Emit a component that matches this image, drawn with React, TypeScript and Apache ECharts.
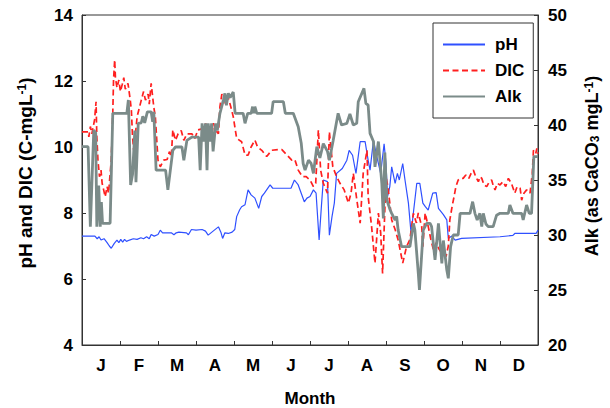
import React, { useEffect, useRef } from "react";
import * as echarts from "echarts";

const months = ["J", "F", "M", "A", "M", "J", "J", "A", "S", "O", "N", "D"];
const leftTicks = { min: 4, max: 14, interval: 2 };
const rightTicks = { min: 20, max: 50, interval: 5 };

// [month position (0-12), pH]
const phData: [number, number][] = [
  [0,7.30],[0.34,7.30],[0.40,7.22],[0.45,7.28],[0.50,7.18],[0.58,7.22],[0.66,7.10],[0.72,7.0],[0.77,6.93],[0.85,7.08],[0.92,7.18],[0.97,7.10],[1.02,7.20],[1.07,7.12],[1.12,7.20],[1.17,7.14],[1.25,7.18],[1.35,7.22],[1.45,7.20],[1.55,7.25],[1.62,7.22],[1.70,7.28],[1.77,7.22],[1.82,7.35],[1.90,7.30],[2.00,7.35],[2.06,7.48],[2.12,7.40],[2.35,7.40],[2.42,7.34],[2.48,7.40],[2.55,7.42],[2.75,7.40],[2.80,7.34],[2.88,7.50],[3.00,7.48],[3.16,7.50],[3.25,7.45],[3.32,7.33],[3.45,7.45],[3.59,7.58],[3.66,7.40],[3.70,7.23],[3.76,7.40],[3.85,7.38],[3.95,7.42],[4.02,7.50],[4.07,7.89],[4.15,8.10],[4.20,8.19],[4.29,8.25],[4.37,8.70],[4.45,8.55],[4.55,8.45],[4.65,8.14],[4.73,8.50],[4.80,8.60],[4.95,8.85],[5.02,8.75],[5.50,8.75],[5.59,9.00],[5.69,8.85],[5.85,8.34],[5.92,8.45],[6.00,8.50],[6.09,8.70],[6.16,8.60],[6.24,7.18],[6.30,8.20],[6.35,9.00],[6.46,8.95],[6.51,7.33],[6.58,7.90],[6.64,8.30],[6.70,9.20],[6.85,9.35],[6.97,9.60],[7.03,9.90],[7.12,9.75],[7.21,9.20],[7.32,10.16],[7.45,10.16],[7.53,9.60],[7.58,9.30],[7.67,10.20],[7.76,9.70],[7.86,9.20],[7.95,10.10],[8.00,9.50],[8.04,8.50],[8.10,8.80],[8.15,9.40],[8.24,8.90],[8.30,9.20],[8.35,9.00],[8.44,9.50],[8.50,9.00],[8.59,8.30],[8.66,7.38],[8.72,8.00],[8.81,8.90],[8.89,8.90],[8.97,8.30],[9.03,8.20],[9.11,8.09],[9.23,8.60],[9.32,8.62],[9.38,8.14],[9.51,7.95],[9.60,7.79],[9.64,7.23],[9.73,7.30],[9.82,7.18],[9.99,7.23],[11.00,7.28],[11.34,7.32],[11.39,7.38],[11.95,7.38],[12.0,7.48]
];

// [month position, DIC (C-mg/L)]
const dicData: [number, number][] = [
  [0,10.46],[0.16,10.46],[0.18,10.31],[0.22,10.62],[0.26,10.40],[0.33,10.82],[0.37,11.37],[0.39,10.30],[0.42,9.60],[0.46,9.10],[0.50,9.30],[0.53,8.90],[0.57,8.70],[0.61,8.49],[0.66,8.80],[0.70,8.60],[0.74,9.20],[0.77,9.60],[0.81,11.02],[0.83,12.03],[0.86,12.64],[0.88,12.10],[0.92,11.80],[0.97,12.03],[1.01,11.68],[1.06,11.90],[1.10,12.10],[1.14,11.75],[1.21,11.93],[1.27,11.42],[1.30,11.10],[1.33,10.31],[1.36,9.90],[1.40,10.30],[1.45,10.92],[1.49,11.10],[1.56,11.42],[1.62,11.68],[1.67,11.42],[1.74,11.60],[1.77,11.30],[1.82,11.93],[1.89,11.20],[1.93,10.92],[2.00,9.60],[2.06,9.40],[2.15,9.60],[2.24,9.62],[2.30,9.86],[2.35,9.70],[2.39,10.52],[2.46,10.20],[2.53,10.40],[2.61,10.50],[2.68,10.20],[2.76,10.40],[2.89,10.40],[2.97,10.26],[3.05,10.52],[3.16,10.55],[3.25,10.70],[3.32,10.62],[3.41,10.30],[3.46,10.72],[3.52,10.50],[3.59,10.40],[3.63,11.22],[3.68,11.60],[3.72,11.52],[3.78,11.30],[3.85,11.50],[3.92,11.20],[3.98,10.92],[4.07,10.26],[4.20,10.16],[4.29,9.76],[4.37,9.75],[4.45,10.00],[4.55,10.21],[4.62,10.00],[4.73,9.90],[4.86,9.71],[4.99,9.90],[5.17,9.92],[5.26,9.92],[5.39,9.76],[5.52,9.60],[5.60,9.62],[5.69,9.30],[5.80,9.10],[5.90,9.10],[6.00,9.00],[6.09,8.80],[6.15,8.90],[6.22,10.52],[6.28,9.30],[6.35,8.90],[6.46,8.60],[6.51,10.46],[6.60,9.40],[6.70,9.10],[6.79,8.90],[6.90,8.70],[7.01,8.30],[7.08,8.60],[7.14,9.20],[7.22,8.50],[7.32,7.69],[7.40,9.20],[7.50,9.90],[7.53,8.50],[7.62,7.60],[7.71,6.48],[7.80,8.00],[7.86,7.40],[7.91,6.17],[8.00,9.10],[8.05,8.80],[8.15,7.79],[8.24,7.50],[8.32,7.18],[8.44,6.48],[8.54,6.98],[8.63,7.20],[8.72,7.99],[8.80,7.70],[8.85,8.00],[8.94,7.59],[8.97,6.98],[9.03,8.00],[9.11,7.60],[9.18,7.20],[9.25,6.88],[9.32,7.10],[9.40,6.90],[9.47,6.78],[9.58,6.68],[9.64,7.00],[9.68,7.79],[9.74,8.20],[9.79,8.49],[9.84,8.80],[9.90,9.00],[9.96,9.05],[10.03,9.05],[10.10,9.15],[10.18,9.05],[10.24,9.20],[10.30,9.30],[10.36,9.10],[10.43,8.95],[10.48,9.10],[10.52,9.05],[10.58,8.85],[10.65,8.80],[10.72,8.95],[10.78,9.00],[10.83,8.80],[10.87,8.70],[10.93,8.90],[11.00,8.85],[11.08,8.95],[11.15,8.80],[11.22,9.05],[11.30,8.90],[11.39,8.60],[11.45,8.80],[11.53,8.75],[11.57,8.39],[11.63,8.60],[11.70,8.70],[11.79,8.60],[11.85,9.20],[11.88,9.90],[11.94,9.80],[11.97,9.96],[12.0,9.80]
];

// [month position, Alkalinity (as CaCO3 mg/L)]
const alkData: [number, number][] = [
  [0,38.03],[0.16,38.03],[0.22,30.76],[0.31,39.55],[0.36,39.3],[0.39,30.76],[0.44,34.5],[0.48,30.76],[0.51,33.0],[0.54,31.06],[0.74,31.06],[0.81,41.06],[1.18,41.06],[1.22,42.27],[1.28,34.55],[1.33,35.5],[1.39,39.5],[1.42,34.8],[1.48,40.15],[1.56,40.2],[1.60,40.8],[1.65,40.2],[1.72,41.2],[1.82,41.2],[1.86,40.3],[1.89,41.2],[1.95,35.9],[2.20,35.9],[2.26,34.1],[2.39,37.7],[2.46,38.0],[2.63,38.0],[2.68,36.8],[2.76,38.6],[2.89,38.9],[3.07,38.9],[3.11,35.9],[3.16,40.15],[3.20,38.5],[3.25,40.15],[3.29,35.9],[3.32,40.15],[3.38,38.5],[3.41,40.15],[3.45,37.6],[3.52,40.15],[3.56,39.5],[3.59,40.15],[3.63,41.06],[3.72,42.27],[3.76,42.88],[3.80,41.8],[3.85,42.88],[3.90,42.5],[3.98,43.0],[4.03,41.06],[4.24,41.06],[4.29,40.15],[4.36,41.06],[4.45,41.06],[4.49,41.67],[4.52,41.06],[4.55,41.67],[4.60,41.06],[4.99,41.06],[5.03,42.12],[5.30,42.12],[5.35,41.06],[5.56,41.06],[5.69,39.85],[5.77,38.33],[5.82,36.5],[5.87,35.9],[5.96,36.8],[6.03,36.5],[6.09,35.6],[6.18,38.03],[6.26,37.0],[6.35,38.3],[6.46,37.6],[6.51,36.8],[6.61,38.6],[6.74,41.06],[6.83,40.0],[6.97,40.15],[7.05,41.0],[7.14,40.0],[7.23,40.15],[7.27,42.12],[7.42,43.33],[7.47,41.97],[7.53,41.8],[7.58,39.24],[7.67,38.5],[7.71,36.2],[7.80,38.5],[7.89,34.7],[7.93,31.5],[7.97,37.5],[8.02,33.2],[8.11,32.27],[8.15,31.97],[8.24,31.36],[8.28,31.7],[8.32,30.45],[8.41,28.94],[8.63,28.94],[8.72,31.06],[8.76,30.45],[8.85,26.52],[8.88,25.0],[8.98,30.45],[9.07,31.06],[9.16,31.06],[9.20,30.76],[9.29,27.73],[9.38,31.06],[9.47,27.42],[9.51,29.5],[9.60,26.82],[9.64,26.06],[9.70,28.94],[9.77,30.0],[9.90,30.0],[9.95,31.97],[10.21,31.97],[10.28,33.03],[10.34,31.97],[10.40,31.36],[10.47,31.97],[10.52,30.76],[10.56,31.97],[10.63,31.0],[10.69,30.76],[10.82,30.76],[10.91,31.8],[11.00,31.97],[11.22,31.97],[11.26,32.73],[11.34,31.97],[11.57,31.97],[11.61,31.36],[11.70,32.73],[11.77,31.97],[11.83,31.97],[11.89,37.12],[12.0,37.12]
];

const FONT = "'Liberation Sans', Arial, Helvetica, sans-serif";
const AXIS_COLOR = "#333";

export default function App() {
  const ref = useRef<HTMLDivElement>(null);
  useEffect(() => {
    if (!ref.current) return;
    const chart = echarts.init(ref.current, undefined, { renderer: "svg" });
    const labelStyle = { color: "#000", fontSize: 17, fontWeight: "bold" as const, fontFamily: FONT };
    chart.setOption({
      animation: false,
      backgroundColor: "#fff",
      grid: { left: 82, right: 72, top: 15, bottom: 63, show: true, borderColor: AXIS_COLOR, borderWidth: 1 },
      legend: {
        orient: "vertical",
        left: 433,
        top: 23,
        padding: [13, 9, 13, 9],
        itemWidth: 42,
        itemHeight: 14,
        itemGap: 9,
        borderColor: AXIS_COLOR,
        borderWidth: 1,
        itemStyle: { opacity: 0 },
        textStyle: { ...labelStyle, padding: [0, 0, 0, 5] },
        data: ["pH", "DIC", "Alk"],
      },
      xAxis: [
        {
          type: "value",
          min: 0,
          max: 12,
          interval: 1,
          axisLine: { show: true, lineStyle: { color: AXIS_COLOR } },
          axisTick: { show: true, inside: true, length: 4, lineStyle: { color: AXIS_COLOR } },
          axisLabel: { show: false },
          splitLine: { show: false },
        },
        {
          type: "category",
          position: "bottom",
          data: months,
          boundaryGap: true,
          axisLine: { show: false },
          axisTick: { show: false },
          axisLabel: { ...labelStyle, margin: 12, interval: 0 },
          splitLine: { show: false },
        },
      ],
      yAxis: [
        {
          type: "value",
          ...leftTicks,
          position: "left",
          axisLine: { show: true, lineStyle: { color: AXIS_COLOR } },
          axisTick: { show: true, inside: true, length: 4, lineStyle: { color: AXIS_COLOR } },
          axisLabel: { ...labelStyle, margin: 9 },
          splitLine: { show: false },
        },
        {
          type: "value",
          ...rightTicks,
          position: "right",
          axisLine: { show: true, lineStyle: { color: AXIS_COLOR } },
          axisTick: { show: true, inside: true, length: 4, lineStyle: { color: AXIS_COLOR } },
          axisLabel: { ...labelStyle, margin: 10 },
          splitLine: { show: false },
        },
      ],
      graphic: [
        {
          type: "text",
          x: 25,
          y: 173,
          rotation: Math.PI / 2,
          style: {
            text: "pH and DIC (C-mgL{sup|-1})",
            fill: "#000",
            fontSize: 19,
            fontWeight: "bold",
            fontFamily: FONT,
            align: "center",
            verticalAlign: "middle",
            rich: {
              sup: { fontSize: 12, fontWeight: "bold", fontFamily: FONT, verticalAlign: "top", lineHeight: 12, fill: "#000" },
            },
          },
        },
        {
          type: "text",
          x: 592,
          y: 166,
          rotation: Math.PI / 2,
          style: {
            text: "Alk (as CaCO{sub|3} mgL{sup|-1})",
            fill: "#000",
            fontSize: 18,
            fontWeight: "bold",
            fontFamily: FONT,
            align: "center",
            verticalAlign: "middle",
            rich: {
              sup: { fontSize: 12, fontWeight: "bold", fontFamily: FONT, verticalAlign: "top", lineHeight: 12, fill: "#000" },
              sub: { fontSize: 12, fontWeight: "bold", fontFamily: FONT, verticalAlign: "bottom", lineHeight: 12, fill: "#000" },
            },
          },
        },
        {
          type: "text",
          x: 310,
          y: 398,
          style: {
            text: "Month",
            fill: "#000",
            fontSize: 17,
            fontWeight: "bold",
            fontFamily: FONT,
            align: "center",
            verticalAlign: "middle",
          },
        },
      ],
      series: [
        {
          name: "pH",
          type: "line",
          xAxisIndex: 0,
          yAxisIndex: 0,
          data: phData,
          symbol: "none",
          showSymbol: false,
          lineStyle: { color: "#2f50ff", width: 1.2 },
          itemStyle: { color: "#2f50ff" },
        },
        {
          name: "DIC",
          type: "line",
          xAxisIndex: 0,
          yAxisIndex: 0,
          data: dicData,
          symbol: "none",
          showSymbol: false,
          lineStyle: { color: "#ff1f1f", width: 1.7, type: [6, 3.5] },
          itemStyle: { color: "#ff1f1f" },
        },
        {
          name: "Alk",
          type: "line",
          xAxisIndex: 0,
          yAxisIndex: 1,
          data: alkData,
          symbol: "none",
          showSymbol: false,
          lineStyle: { color: "#7b8b89", width: 2.8 },
          itemStyle: { color: "#7b8b89" },
        },
      ],
    });
    return () => chart.dispose();
  }, []);
  return (
    <div
      ref={ref}
      style={{ position: "fixed", left: 0, top: 0, width: 610, height: 408, background: "#fff" }}
    />
  );
}
